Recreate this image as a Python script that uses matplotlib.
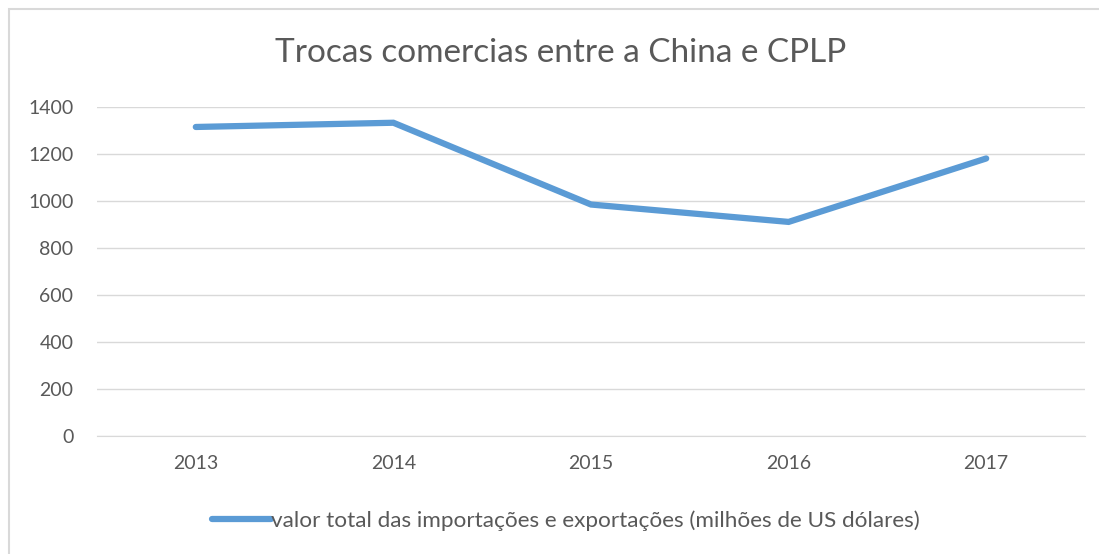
import matplotlib.pyplot as plt
from matplotlib.patches import Rectangle

years = ["2013", "2014", "2015", "2016", "2017"]
valores = [1315, 1333, 985, 911, 1181]
serie = "valor total das importações e exportações (milhões de US dólares)"
titulo = "Trocas comercias entre a China e CPLP"
yticks = [0, 200, 400, 600, 800, 1000, 1200, 1400]

plt.rcParams['font.family'] = ['Lato', 'DejaVu Sans']
txt = '#595959'

fig = plt.figure(figsize=(10.99, 5.54), dpi=100)
# chart border (runs off the right and bottom edges, as in the screenshot)
fig.patches.append(Rectangle((9 / 1099, -10 / 554), 1200 / 1099, 555 / 554,
                             transform=fig.transFigure, fill=False,
                             edgecolor='#d9d9d9', linewidth=1.5))

ax = fig.add_axes([97 / 1099, 1 - 436 / 554, 988 / 1099, 329 / 554])
x = list(range(len(years)))
line, = ax.plot(x, valores, color='#5b9bd5', linewidth=4.5,
                solid_capstyle='round', solid_joinstyle='miter')

ax.set_xlim(-0.5, 4.5)
ax.set_ylim(0, 1400)
ax.set_yticks(yticks)
ax.set_xticks(x)
ax.set_xticklabels(years)
ax.grid(axis='y', color='#d9d9d9', linewidth=1)
ax.set_axisbelow(True)
for s in ['top', 'right', 'left']:
    ax.spines[s].set_visible(False)
ax.spines['bottom'].set_color('#d9d9d9')
ax.tick_params(length=0, labelsize=14, colors=txt)
ax.tick_params(axis='y', pad=17)
ax.tick_params(axis='x', pad=14)

fig.text(561 / 1099, 1 - 53 / 554, titulo, ha='center', va='center',
         fontsize=24, color=txt)

fig.legend([line], [serie], loc='center', bbox_to_anchor=(566 / 1099, 1 - 521 / 554),
           frameon=False, fontsize=16.2, labelcolor=txt,
           handlelength=2.6, handletextpad=0.0)

fig.savefig('out.png', dpi=100)
